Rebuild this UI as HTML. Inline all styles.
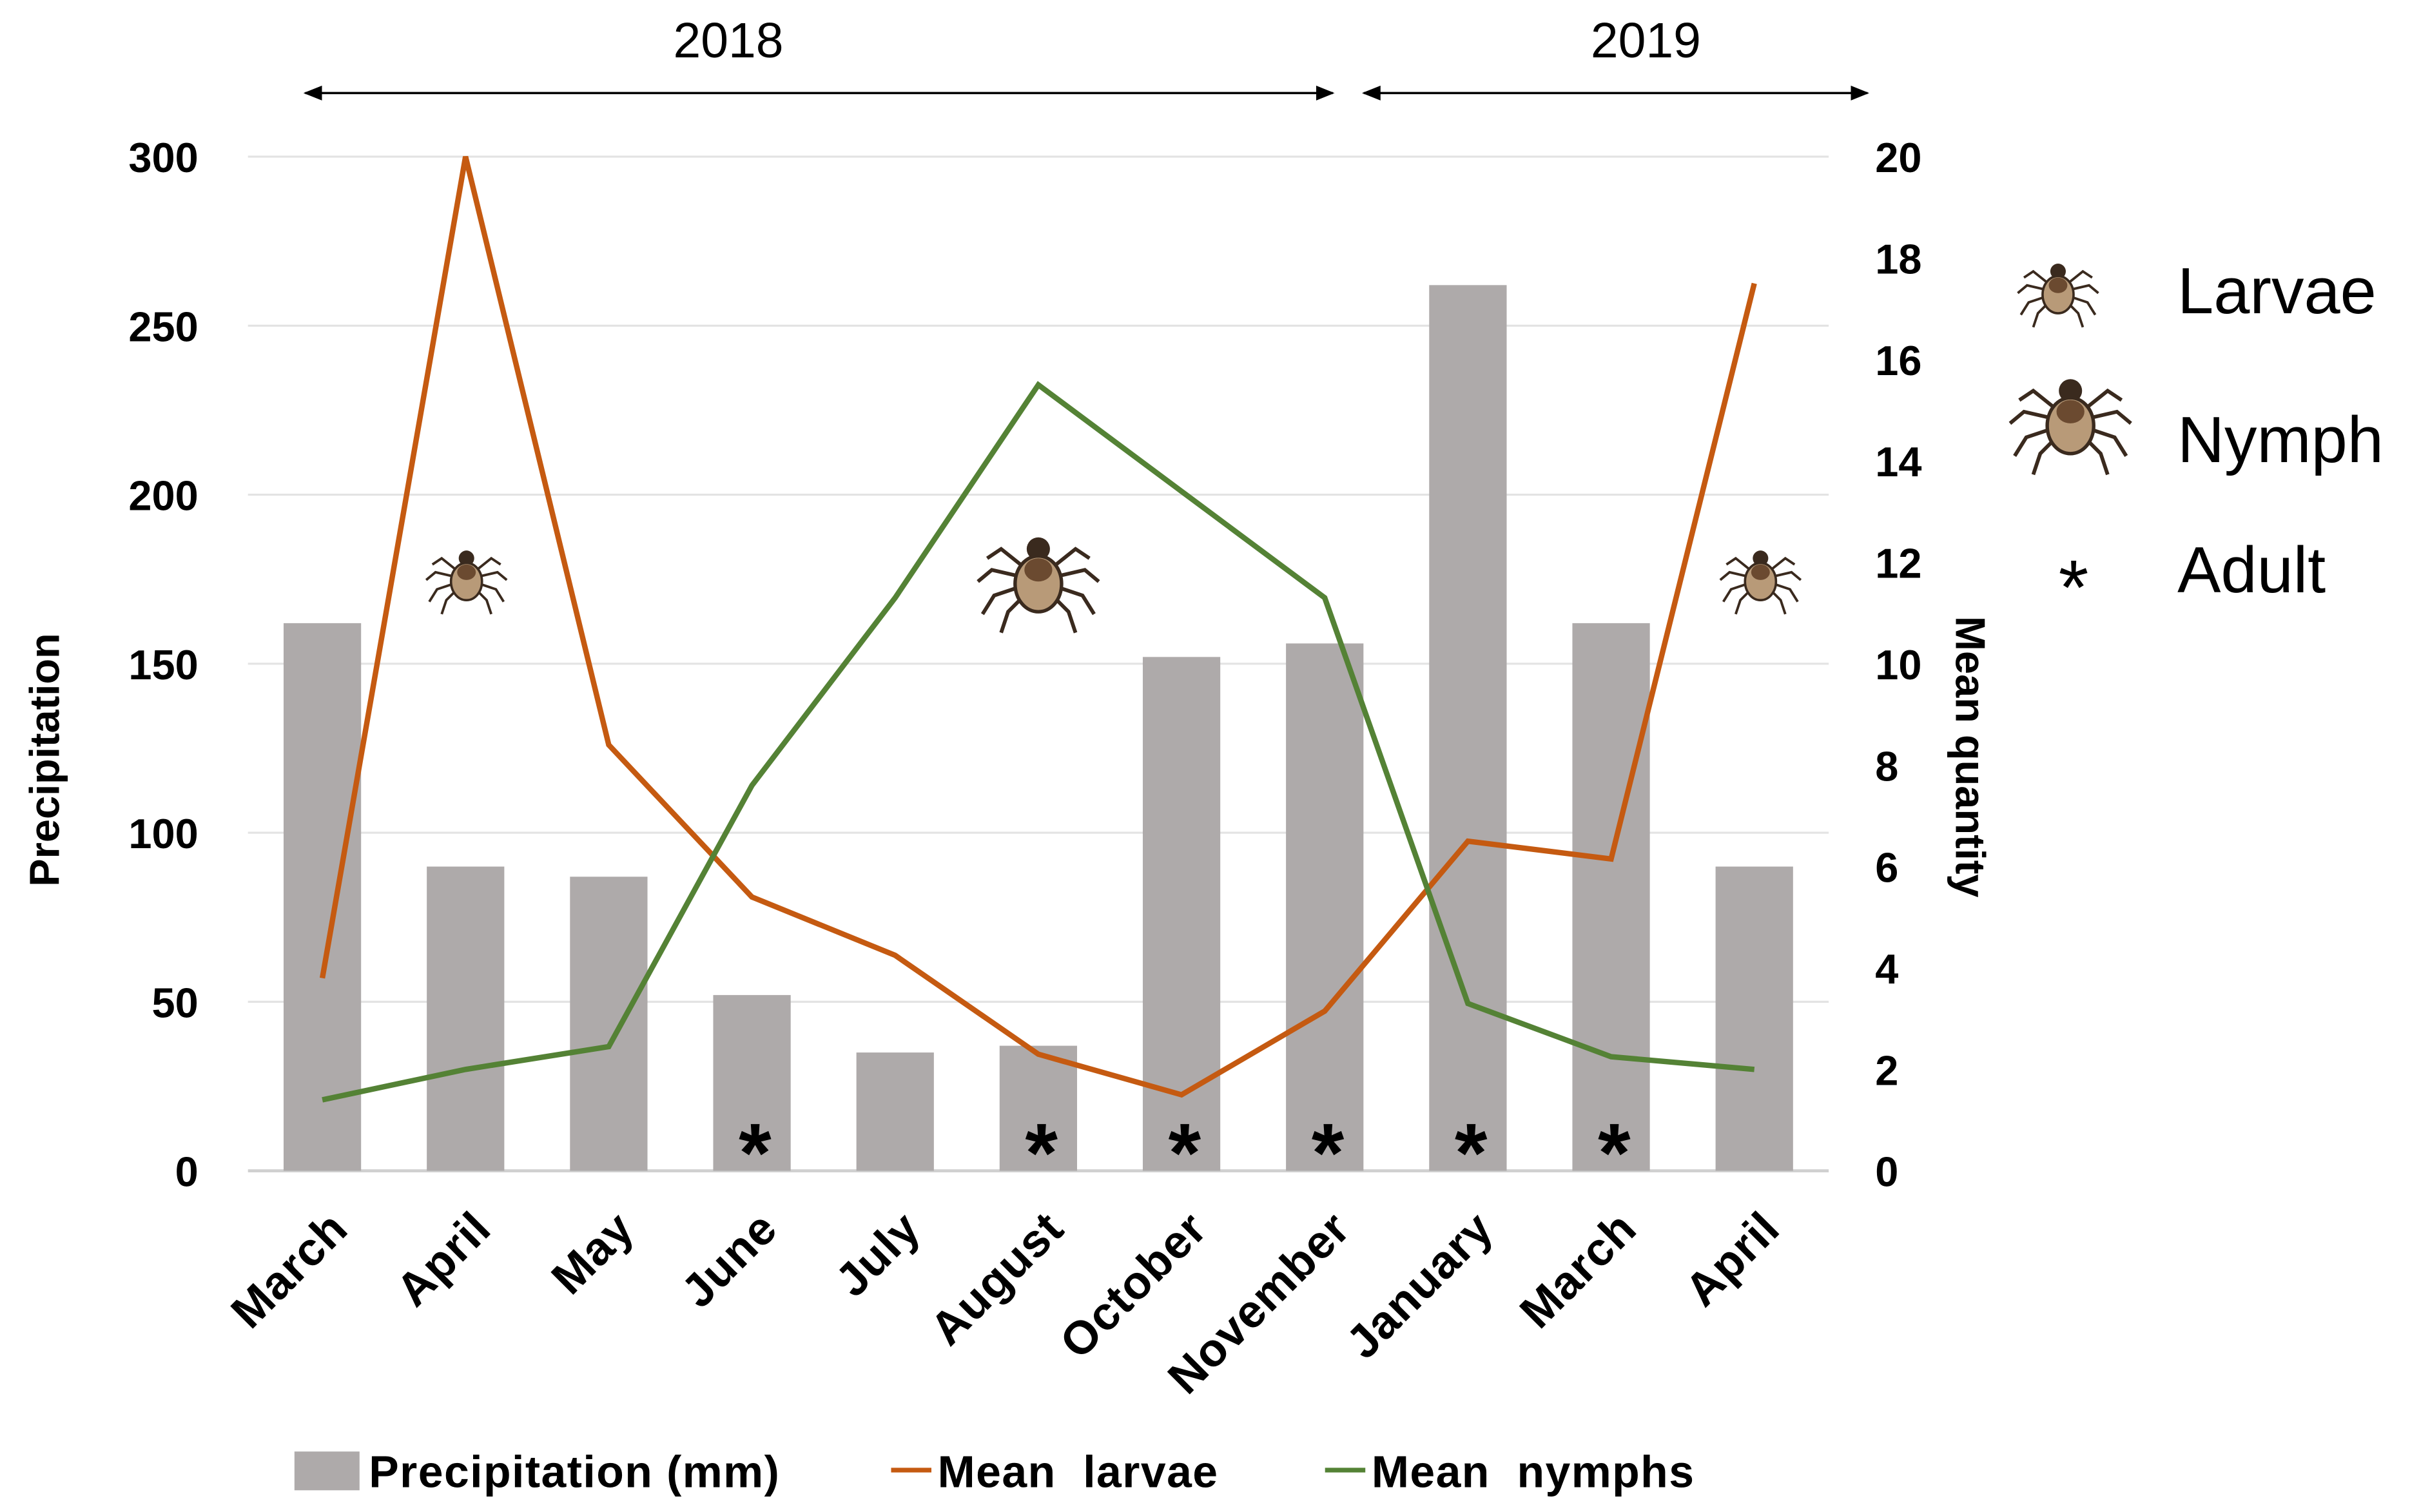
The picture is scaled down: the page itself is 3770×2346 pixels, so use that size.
<!DOCTYPE html>
<html><head><meta charset="utf-8"><style>
html,body{margin:0;padding:0;background:#fff;}
svg{display:block;}
text{font-family:"Liberation Sans",Arial,sans-serif;fill:#000;}
</style></head><body>
<svg id="chart" width="3770" height="2346" viewBox="0 0 1568 975" preserveAspectRatio="none" xmlns="http://www.w3.org/2000/svg">
<defs>
<marker id="ah" viewBox="0 0 10 10" refX="9" refY="5" markerWidth="8" markerHeight="8" orient="auto-start-reverse"><path d="M0,1 L10,5 L0,9 Z" fill="#000"/></marker>
<g id="tick">
  <g stroke="#3a2a1e" stroke-width="1.6" fill="none">
    <path d="M-6,-4 L-16,-12 L-22,-8"/><path d="M6,-4 L16,-12 L22,-8"/>
    <path d="M-7,0 L-20,-3 L-26,2"/><path d="M7,0 L20,-3 L26,2"/>
    <path d="M-7,4 L-19,8 L-24,16"/><path d="M7,4 L19,8 L24,16"/>
    <path d="M-5,7 L-13,15 L-16,24"/><path d="M5,7 L13,15 L16,24"/>
  </g>
  <ellipse cx="0" cy="-12" rx="5" ry="5" fill="#3a2a1e"/>
  <ellipse cx="0" cy="3" rx="10" ry="12" fill="#b89a78" stroke="#3a2a1e" stroke-width="1.5"/>
  <ellipse cx="0" cy="-3" rx="6" ry="5" fill="#6b4a30"/>
</g>
</defs>
<g id="grid"></g>
<g id="bars"></g>
<g id="lines"></g>
<g id="axes"></g>

<g>
<line x1="197" y1="60" x2="860" y2="60" stroke="#000" stroke-width="1.5" marker-start="url(#ah)" marker-end="url(#ah)"/>
<text x="470" y="37" font-size="32" text-anchor="middle">2018</text></g>
<g>
<line x1="880" y1="60" x2="1205" y2="60" stroke="#000" stroke-width="1.5" marker-start="url(#ah)" marker-end="url(#ah)"/>
<text x="1062" y="37" font-size="32" text-anchor="middle">2019</text></g>

<g transform="translate(301,372)"><use href="#tick"/></g>
<g transform="translate(670,372) scale(1.5)"><use href="#tick"/></g>
<g transform="translate(1136,372)"><use href="#tick"/></g>

<g>
<g transform="translate(1328,187)"><use href="#tick"/></g>
<text x="1405" y="202" font-size="42">Larvae</text>
<g transform="translate(1336,270) scale(1.5)"><use href="#tick"/></g>
<text x="1405" y="298" font-size="42">Nymph</text>
<text x="1338" y="396" font-size="50" text-anchor="middle">*</text>
<text x="1405" y="382" font-size="42">Adult</text>
</g>

<text transform="translate(38,490) rotate(-90)" font-size="27" font-weight="bold" text-anchor="middle">Precipitation</text>
<text transform="translate(1262,488) rotate(90)" font-size="27" font-weight="bold" text-anchor="middle">Mean quantity</text>

<g>
<rect x="190" y="936" width="42" height="25" fill="#aeaaaa"/>
<text x="238" y="959" font-size="29" font-weight="bold" letter-spacing="0.6">Precipitation (mm)</text>
<line x1="575" y1="948" x2="601" y2="948" stroke="#c55a11" stroke-width="3"/>
<text x="605" y="959" font-size="29" font-weight="bold" letter-spacing="0.6" xml:space="preserve">Mean  larvae</text>
<line x1="855" y1="948" x2="881" y2="948" stroke="#548235" stroke-width="3"/>
<text x="885" y="959" font-size="29" font-weight="bold" letter-spacing="0.6" xml:space="preserve">Mean  nymphs</text>
</g>
</svg>
<script>
const categories = ["March","April","May","June","July","August","October","November","January","March","April"];
const precipitation = [162, 90, 87, 52, 35, 37, 152, 156, 262, 162, 90];
const meanLarvae = [3.8, 20, 8.4, 5.4, 4.25, 2.3, 1.5, 3.15, 6.5, 6.15, 17.5];
const meanNymphs = [1.4, 2.0, 2.45, 7.6, 11.3, 15.5, 13.4, 11.3, 3.3, 2.25, 2.0];
const adultPresent = [0,0,0,1,0,1,1,1,1,1,0];
const leftTicks = [0,50,100,150,200,250,300];
const rightTicks = [0,2,4,6,8,10,12,14,16,18,20];

const NS="http://www.w3.org/2000/svg";
const top0=101, bot=755, xl=160, xr=1180;
const yL = v => bot - v/300*(bot-top0);
const yR = v => bot - v/20*(bot-top0);
const xC = i => 208 + i*92.4;
function mk(tag,attrs,parent){const e=document.createElementNS(NS,tag);for(const k in attrs)e.setAttribute(k,attrs[k]);parent.appendChild(e);return e;}
const grid=document.getElementById('grid'), bars=document.getElementById('bars'), lines=document.getElementById('lines'), axes=document.getElementById('axes');
leftTicks.forEach(t=>{
  const l=mk('line',{x1:xl,x2:xr,y1:yL(t),y2:yL(t),stroke:t===0?'#d0d0d0':'#e3e3e3','stroke-width':t===0?2:1.3},grid);
  
  
  const tx=mk('text',{x:128,y:yL(t)+10,'font-size':27,'font-weight':'bold','text-anchor':'end'},axes);
  tx.textContent=t;
  
  
});
rightTicks.forEach(t=>{
  const tx=mk('text',{x:1210,y:yR(t)+10,'font-size':27,'font-weight':'bold'},axes);
  tx.textContent=t;
  
  
});
precipitation.forEach((v,i)=>{
  const r=mk('rect',{x:xC(i)-25,y:yL(v),width:50,height:bot-yL(v),fill:'#aeaaaa'},bars);
  
  
  if(adultPresent[i]){
    const a=mk('text',{x:xC(i)+2,y:762,'font-size':54,'font-weight':'bold','text-anchor':'middle'},bars);
    a.textContent='*';
    
    
  }
  const lb=mk('text',{transform:`translate(${xC(i)+18},${794}) rotate(-45)`,'font-size':30,'font-weight':'bold','text-anchor':'end','letter-spacing':0.5},axes);
  lb.textContent=categories[i];
  
  
});
const pl1=mk('polyline',{points:meanLarvae.map((v,i)=>xC(i)+','+yR(v)).join(' '),fill:'none',stroke:'#c55a11','stroke-width':3.5},lines);


const pl2=mk('polyline',{points:meanNymphs.map((v,i)=>xC(i)+','+yR(v)).join(' '),fill:'none',stroke:'#548235','stroke-width':3.5},lines);


</script>
</body></html>
